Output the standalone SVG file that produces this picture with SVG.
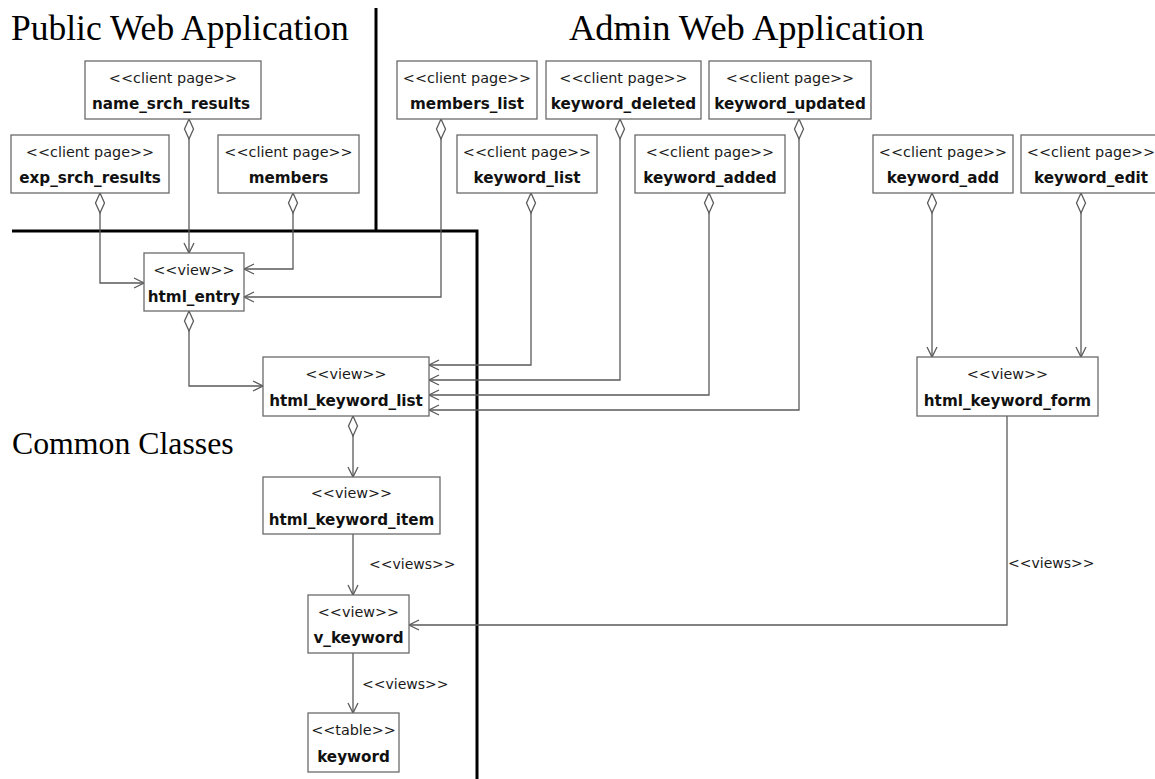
<svg xmlns="http://www.w3.org/2000/svg" width="1155" height="779" viewBox="0 0 1155 779">
  <style>
    .box { fill: #ffffff; stroke: #6a6a6a; stroke-width: 1.3; }
    .st { font-family: "DejaVu Sans", Verdana, sans-serif; font-size: 14.4px; fill: #1a1a1a; text-anchor: middle; }
    .nm { font-family: "DejaVu Sans", Verdana, sans-serif; font-size: 15.2px; font-weight: bold; fill: #111111; text-anchor: middle; }
    .title { font-family: "Liberation Serif", "Times New Roman", serif; font-size: 35.5px; fill: #000000; }
    .conn { fill: none; stroke: #5a5a5a; stroke-width: 1.3; }
    .lbl { font-family: "DejaVu Sans", Verdana, sans-serif; font-size: 14px; fill: #1a1a1a; }
    .border { fill: none; stroke: #000000; stroke-width: 3; }
  </style>
  <defs>
    <marker id="diamond" markerUnits="userSpaceOnUse" markerWidth="24" markerHeight="12" refX="0" refY="0" viewBox="-1 -6 22 12" orient="auto">
      <path d="M0,0 L10,-4.5 L20,0 L10,4.5 Z" fill="#ffffff" stroke="#5a5a5a" stroke-width="1.3"/>
    </marker>
    <marker id="arrow" markerUnits="userSpaceOnUse" markerWidth="14" markerHeight="14" refX="0" refY="0" viewBox="-12 -7 14 14" orient="auto">
      <path d="M-10,-5 L0,0 L-10,5" fill="none" stroke="#5a5a5a" stroke-width="1.3"/>
    </marker>
  </defs>

  <rect width="1155" height="779" fill="#ffffff"/>

  <!-- package boundaries -->
  <g id="boundaries">
    <path class="border" d="M376,8 V231"/>
    <path class="border" d="M12,231 H477 V779"/>
  </g>

  <!-- package titles -->
  <g id="titles">
    <text class="title" x="11" y="40">Public Web Application</text>
    <text class="title" x="569" y="40" style="font-size:36.5px">Admin Web Application</text>
    <text class="title" x="12" y="454" style="font-size:31.8px">Common Classes</text>
  </g>

  <!-- connectors -->
  <g id="connectors">
    <path class="conn" d="M189,119 V253" marker-start="url(#diamond)" marker-end="url(#arrow)"/>
    <path class="conn" d="M100,193 V283 H144" marker-start="url(#diamond)" marker-end="url(#arrow)"/>
    <path class="conn" d="M293,193 V269 H244" marker-start="url(#diamond)" marker-end="url(#arrow)"/>
    <path class="conn" d="M441,119 V297 H244" marker-start="url(#diamond)" marker-end="url(#arrow)"/>
    <path class="conn" d="M189,311 V386 H263" marker-start="url(#diamond)" marker-end="url(#arrow)"/>
    <path class="conn" d="M531,193 V365 H429" marker-start="url(#diamond)" marker-end="url(#arrow)"/>
    <path class="conn" d="M620,119 V380 H429" marker-start="url(#diamond)" marker-end="url(#arrow)"/>
    <path class="conn" d="M709,193 V395 H429" marker-start="url(#diamond)" marker-end="url(#arrow)"/>
    <path class="conn" d="M799,119 V410 H429" marker-start="url(#diamond)" marker-end="url(#arrow)"/>
    <path class="conn" d="M932,193 V357" marker-start="url(#diamond)" marker-end="url(#arrow)"/>
    <path class="conn" d="M1081,193 V357" marker-start="url(#diamond)" marker-end="url(#arrow)"/>
    <path class="conn" d="M353,416 V477" marker-start="url(#diamond)" marker-end="url(#arrow)"/>
    <path class="conn" d="M353,534 V595" marker-end="url(#arrow)"/>
    <path class="conn" d="M353,653 V713" marker-end="url(#arrow)"/>
    <path class="conn" d="M1007,416 V625 H409" marker-end="url(#arrow)"/>
    <text class="lbl" x="369" y="569">&lt;&lt;views&gt;&gt;</text>
    <text class="lbl" x="362" y="689">&lt;&lt;views&gt;&gt;</text>
    <text class="lbl" x="1008" y="568">&lt;&lt;views&gt;&gt;</text>
  </g>

  <!-- public web application pages -->
  <g id="name_srch_results">
    <rect class="box" x="85" y="61" width="176" height="58"/>
    <text class="st" x="173" y="83">&lt;&lt;client page&gt;&gt;</text>
    <text class="nm" x="171" y="109">name_srch_results</text>
  </g>
  <g id="exp_srch_results">
    <rect class="box" x="11" y="135" width="158" height="58"/>
    <text class="st" x="90" y="157">&lt;&lt;client page&gt;&gt;</text>
    <text class="nm" x="90" y="183">exp_srch_results</text>
  </g>
  <g id="members">
    <rect class="box" x="218" y="135" width="141" height="58"/>
    <text class="st" x="288.5" y="157">&lt;&lt;client page&gt;&gt;</text>
    <text class="nm" x="288.5" y="183">members</text>
  </g>

  <!-- admin web application pages -->
  <g id="members_list">
    <rect class="box" x="397" y="61" width="140" height="58"/>
    <text class="st" x="467" y="83">&lt;&lt;client page&gt;&gt;</text>
    <text class="nm" x="467" y="109">members_list</text>
  </g>
  <g id="keyword_deleted">
    <rect class="box" x="546" y="61" width="155" height="58"/>
    <text class="st" x="623.5" y="83">&lt;&lt;client page&gt;&gt;</text>
    <text class="nm" x="623.5" y="109">keyword_deleted</text>
  </g>
  <g id="keyword_updated">
    <rect class="box" x="709" y="61" width="162" height="58"/>
    <text class="st" x="790" y="83">&lt;&lt;client page&gt;&gt;</text>
    <text class="nm" x="790" y="109">keyword_updated</text>
  </g>
  <g id="keyword_list">
    <rect class="box" x="457" y="135" width="140" height="58"/>
    <text class="st" x="527" y="157">&lt;&lt;client page&gt;&gt;</text>
    <text class="nm" x="527" y="183">keyword_list</text>
  </g>
  <g id="keyword_added">
    <rect class="box" x="635" y="135" width="150" height="58"/>
    <text class="st" x="710" y="157">&lt;&lt;client page&gt;&gt;</text>
    <text class="nm" x="710" y="183">keyword_added</text>
  </g>
  <g id="keyword_add">
    <rect class="box" x="873" y="135" width="140" height="58"/>
    <text class="st" x="943" y="157">&lt;&lt;client page&gt;&gt;</text>
    <text class="nm" x="943" y="183">keyword_add</text>
  </g>
  <g id="keyword_edit">
    <rect class="box" x="1021" y="135" width="140" height="58"/>
    <text class="st" x="1091" y="157">&lt;&lt;client page&gt;&gt;</text>
    <text class="nm" x="1091" y="183">keyword_edit</text>
  </g>
  <g id="html_keyword_form">
    <rect class="box" x="917" y="357" width="181" height="59"/>
    <text class="st" x="1007.5" y="379">&lt;&lt;view&gt;&gt;</text>
    <text class="nm" x="1007.5" y="406">html_keyword_form</text>
  </g>

  <!-- common classes -->
  <g id="html_entry">
    <rect class="box" x="144" y="253" width="100" height="58"/>
    <text class="st" x="194" y="275">&lt;&lt;view&gt;&gt;</text>
    <text class="nm" x="194" y="302">html_entry</text>
  </g>
  <g id="html_keyword_list">
    <rect class="box" x="263" y="357" width="166" height="59"/>
    <text class="st" x="346" y="379">&lt;&lt;view&gt;&gt;</text>
    <text class="nm" x="346" y="406">html_keyword_list</text>
  </g>
  <g id="html_keyword_item">
    <rect class="box" x="263" y="477" width="177" height="57"/>
    <text class="st" x="351.5" y="498">&lt;&lt;view&gt;&gt;</text>
    <text class="nm" x="351.5" y="525">html_keyword_item</text>
  </g>
  <g id="v_keyword">
    <rect class="box" x="308" y="595" width="101" height="58"/>
    <text class="st" x="358.5" y="617">&lt;&lt;view&gt;&gt;</text>
    <text class="nm" x="358.5" y="643">v_keyword</text>
  </g>
  <g id="keyword">
    <rect class="box" x="308" y="713" width="91" height="59"/>
    <text class="st" x="353.5" y="735">&lt;&lt;table&gt;&gt;</text>
    <text class="nm" x="353.5" y="762">keyword</text>
  </g>
</svg>
